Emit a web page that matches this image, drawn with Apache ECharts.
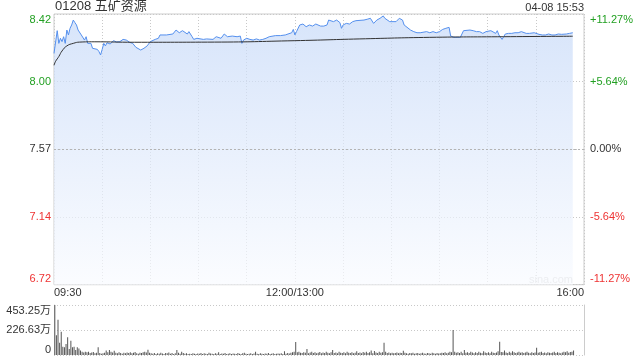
<!DOCTYPE html>
<html>
<head>
<meta charset="utf-8">
<script src="https://cdn.jsdelivr.net/npm/echarts@6/dist/echarts.min.js"></script>
<style>
html,body{margin:0;padding:0;background:#fff;}
#c{width:640px;height:360px;}
</style>
</head>
<body>
<div id="c"></div>
<script>
// ---- data (trading minutes since 09:30, lunch 12:00-13:00 removed) ----
const title = '01208 五矿资源';
const stamp = '04-08 15:53';
const prevClose = 7.57;
const pctRange = 11.27;
const volMax = 453.25; // 万
const timeTicks = {0: '09:30', 150: '12:00/13:00', 330: '16:00'};
const totalMinutes = 330;

const priceTimes = [0,2,3,4,5,6,7,8,9,10,11,12,13,14,15,16,17,18,19,20,21,22,23,24,25,27,28,29,30,31,32,33,35,37,39,41,43,45,46,47,49,51,54,56,58,60,61,63,65,66,70,74,76,78,80,83,84,86,87,89,93,95,99,101,104,106,108,111,114,116,117,118,120,122,124,126,128,130,132,134,135,138,141,144,145,148,149,150,151,153,155,157,159,161,163,166,168,170,171,172,174,176,178,179,180,182,184,186,188,193,195,197,199,201,203,205,206,207,209,213,215,217,218,222,224,226,228,232,234,236,238,240,242,244,246,247,249,251,253,254,255,256,259,261,263,264,265,267,269,272,273,275,276,277,278,279,280,281,283,285,287,289,291,294,296,299,300,302,304,306,308,310,312,314,316,319,321,323];
const prices = [8.175,8.318,8.238,8.270,8.249,8.280,8.238,8.322,8.291,8.333,8.354,8.385,8.369,8.354,8.322,8.333,8.291,8.301,8.259,8.280,8.238,8.249,8.238,8.207,8.217,8.200,8.186,8.165,8.200,8.238,8.222,8.242,8.234,8.255,8.247,8.249,8.263,8.259,8.270,8.245,8.238,8.213,8.196,8.207,8.222,8.249,8.259,8.263,8.270,8.291,8.291,8.297,8.322,8.305,8.318,8.297,8.312,8.280,8.263,8.270,8.263,8.266,8.263,8.280,8.270,8.297,8.280,8.284,8.280,8.284,8.238,8.259,8.270,8.263,8.259,8.266,8.259,8.263,8.270,8.280,8.291,8.287,8.287,8.291,8.301,8.305,8.326,8.291,8.312,8.354,8.360,8.343,8.354,8.347,8.360,8.347,8.347,8.354,8.385,8.396,8.375,8.385,8.369,8.333,8.354,8.364,8.360,8.375,8.381,8.385,8.390,8.396,8.364,8.385,8.396,8.411,8.396,8.385,8.375,8.375,8.396,8.385,8.354,8.322,8.312,8.305,8.305,8.312,8.305,8.312,8.305,8.312,8.326,8.333,8.339,8.284,8.276,8.276,8.276,8.280,8.318,8.322,8.322,8.318,8.312,8.305,8.312,8.301,8.312,8.318,8.312,8.301,8.318,8.291,8.284,8.263,8.280,8.297,8.301,8.301,8.305,8.305,8.312,8.301,8.301,8.305,8.301,8.295,8.291,8.291,8.297,8.291,8.291,8.297,8.295,8.297,8.301,8.305];

const avgTimes = [0,1,2,3,5,8,12,16,25,50,100,150,190,234,280,323];
const avgPrices = [8.100,8.125,8.140,8.155,8.190,8.222,8.238,8.246,8.248,8.245,8.246,8.255,8.266,8.276,8.280,8.283];

// volume per minute (万股), minute 0..323
const volumes = [
453,180,320,110,210,75,70,100,160,55,130,70,75,45,70,60,40,30,22,30,
25,30,18,22,28,15,20,70,18,12,15,20,40,25,45,30,22,38,20,15,
25,18,12,20,15,22,18,25,15,20,28,15,12,20,18,25,30,22,48,20,
15,12,18,10,15,12,20,14,10,18,15,22,12,18,10,15,45,20,12,30,
18,12,15,10,12,8,15,12,10,14,12,18,10,15,12,10,20,14,12,10,
15,12,25,10,14,12,18,10,12,15,10,14,12,10,18,12,10,15,20,12,
10,12,15,10,14,30,12,10,15,12,10,14,12,18,10,12,15,10,12,14,
12,15,10,35,12,18,14,20,25,30,118,25,30,20,18,25,20,54,15,22,
30,18,25,15,20,28,15,22,18,30,20,15,25,45,18,22,15,30,20,18,
25,15,30,20,18,25,15,20,35,18,22,15,28,20,30,18,25,40,15,36,
22,18,30,20,25,112,30,18,22,15,20,15,18,22,15,20,18,39,20,15,
12,18,15,20,12,15,18,12,15,20,14,12,18,15,12,20,15,12,18,14,
15,20,18,25,15,20,30,25,226,30,20,25,18,30,15,45,20,25,18,30,
22,15,25,18,30,20,15,35,22,18,25,15,30,20,18,22,35,121,28,25,
40,22,18,30,20,35,25,18,22,30,20,25,18,22,30,20,15,25,18,22,
66,20,25,30,18,22,15,25,20,18,22,30,18,25,20,15,22,30,25,35,
20,28,30,40
];

// ---- helpers ----
const toPct = p => (p / prevClose - 1) * 100;
const green = '#22a022', red = '#ee3333', dark = '#333';
const fontFam = '"Liberation Sans", Arial, "Noto Sans CJK SC", sans-serif';
const pctColor = v => Math.abs(v) < 1e-9 ? dark : (v > 0 ? green : red);
const fmtPrice = v => (prevClose * (1 + v / 100)).toFixed(2);
const fmtPct = v => {
  if (Math.abs(v) < 1e-9) return '0.00%';
  return (v > 0 ? '+' : '-') + (Math.abs(v) + 1e-9).toFixed(2) + '%';
};

const chart = echarts.init(document.getElementById('c'), null, {renderer: 'canvas'});
const gridL = 54, gridR = 56;

const option = {
  animation: false,
  backgroundColor: '#fff',
  textStyle: {fontFamily: fontFam},
  title: [
    {text: title, left: 55, top: 0, padding: 0,
     textStyle: {fontSize: 13, fontWeight: 'normal', color: dark, fontFamily: fontFam}},
    {text: stamp, right: gridR, top: 2, padding: 0,
     textStyle: {fontSize: 11, fontWeight: 'normal', color: dark, fontFamily: fontFam}}
  ],
  graphic: [
    {type: 'text', right: 67, top: 274, silent: true,
     style: {text: 'sina.com', fill: '#cfcfcf', font: '11px ' + fontFam}}
  ],
  grid: [
    {left: gridL, right: gridR, top: 14, height: 270.7, show: true, borderColor: '#ccc', borderWidth: 1, containLabel: false},
    {left: gridL, right: gridR, top: 305, height: 50, containLabel: false}
  ],
  xAxis: [
    {type: 'value', gridIndex: 0, min: 0, max: totalMinutes, interval: 30,
     axisLine: {show: false}, axisTick: {show: false},
     splitLine: {show: true, lineStyle: {color: '#c8c8c8', type: [1, 2], width: 1}},
     axisLabel: {show: true, margin: 3, fontSize: 11, color: dark, fontFamily: fontFam,
       showMinLabel: true, showMaxLabel: true,
       alignMinLabel: 'left', alignMaxLabel: 'right',
       formatter: v => timeTicks[Math.round(v)] || ''}},
    {type: 'value', gridIndex: 1, min: 0, max: totalMinutes, interval: 30,
     axisLine: {show: false}, axisTick: {show: false}, splitLine: {show: false},
     axisLabel: {show: false}}
  ],
  yAxis: [
    {type: 'value', gridIndex: 0, min: -pctRange, max: pctRange, interval: pctRange / 2,
     axisLine: {show: false}, axisTick: {show: false},
     splitLine: {show: true, lineStyle: {color: '#c8c8c8', type: [1, 2], width: 1}},
     axisLabel: {margin: 3, fontSize: 11, fontFamily: fontFam, color: pctColor, formatter: fmtPrice,
       showMinLabel: true, showMaxLabel: true,
       verticalAlignMinLabel: 'bottom', verticalAlignMaxLabel: 'top'}},
    {type: 'value', gridIndex: 0, position: 'right', min: -pctRange, max: pctRange, interval: pctRange / 2,
     axisLine: {show: false}, axisTick: {show: false}, splitLine: {show: false},
     axisLabel: {margin: 6, fontSize: 11, fontFamily: fontFam, color: pctColor, formatter: fmtPct,
       showMinLabel: true, showMaxLabel: true,
       verticalAlignMinLabel: 'bottom', verticalAlignMaxLabel: 'top'}},
    {type: 'value', gridIndex: 1, min: 0, max: volMax, interval: volMax / 2,
     axisLine: {show: true, lineStyle: {color: '#ccc'}}, axisTick: {show: false},
     splitLine: {show: true, lineStyle: {color: '#c8c8c8', type: [1, 2], width: 1}},
     axisLabel: {margin: 3, fontSize: 11, fontFamily: fontFam, color: dark,
       formatter: v => v === 0 ? '0' : v.toFixed(2) + '万',
       showMinLabel: true, showMaxLabel: true,
       verticalAlignMinLabel: 'bottom', verticalAlignMaxLabel: 'top'}},
    {type: 'value', gridIndex: 1, position: 'right', min: 0, max: volMax, interval: volMax / 2,
     axisLine: {show: true, lineStyle: {color: '#ccc'}}, axisTick: {show: false},
     splitLine: {show: false}, axisLabel: {show: false}}
  ],
  series: [
    {type: 'line', name: 'price', xAxisIndex: 0, yAxisIndex: 0,
     data: priceTimes.map((t, i) => [t, toPct(prices[i])]),
     symbol: 'none', smooth: false,
     lineStyle: {color: '#5590ee', width: 1},
     areaStyle: {origin: 'start',
       color: new echarts.graphic.LinearGradient(0, 0, 0, 1, [
         {offset: 0, color: 'rgba(198,217,248,1)'},
         {offset: 1, color: 'rgba(249,251,255,1)'}
       ])},
     markLine: {silent: true, symbol: 'none', label: {show: false},
       lineStyle: {color: '#b4b4b4', type: [2, 2], width: 1},
       data: [{yAxis: 0}]}
    },
    {type: 'line', name: 'avg', xAxisIndex: 0, yAxisIndex: 0,
     data: avgTimes.map((t, i) => [t, toPct(avgPrices[i])]),
     symbol: 'none', smooth: true,
     lineStyle: {color: '#333', width: 1}},
    {type: 'bar', name: 'vol', xAxisIndex: 1, yAxisIndex: 2,
     data: volumes.map((v, i) => [i + 0.5, v]),
     barWidth: 1, itemStyle: {color: '#555'}}
  ]
};
chart.setOption(option);
</script>
</body>
</html>
